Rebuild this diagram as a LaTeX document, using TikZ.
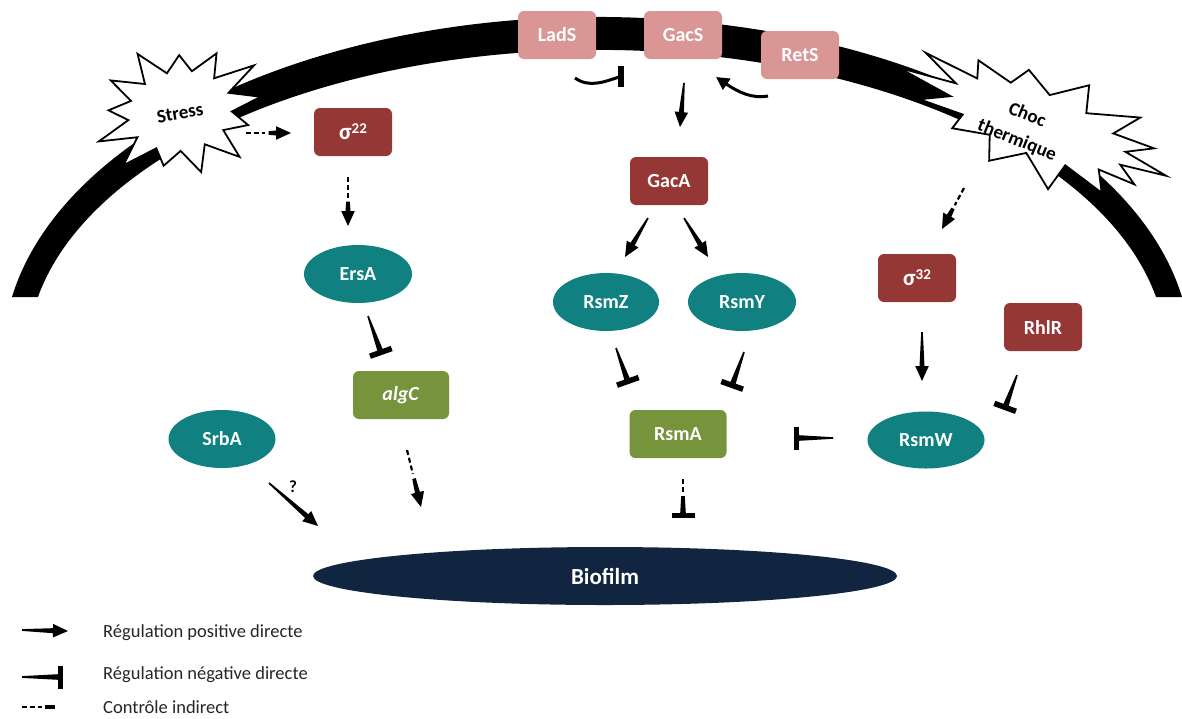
\documentclass[tikz,border=0pt]{standalone}
\usepackage{fontspec}
\setmainfont{Carlito}
\usetikzlibrary{calc,shapes.geometric,arrows.meta}
\definecolor{pinkbox}{RGB}{217,150,148}
\definecolor{redbox}{RGB}{149,55,53}
\definecolor{tealell}{RGB}{16,128,128}
\definecolor{olivebox}{RGB}{119,147,60}
\definecolor{navybio}{RGB}{17,37,64}
\tikzset{
  box/.style={rectangle, rounded corners=6pt, minimum width=78, minimum height=48, inner sep=0pt, text=white, font=\fontsize{20}{24}\selectfont\bfseries},
  pinkb/.style={box, fill=pinkbox},
  redb/.style={box, fill=redbox},
  oliveb/.style={box, fill=olivebox, minimum width=97},
  ell/.style={ellipse, fill=tealell, minimum width=108, minimum height=58, inner sep=0pt, text=white, font=\fontsize{20}{24}\selectfont\bfseries},
  burst/.style={fill=white, draw=black, line width=1.8pt, line join=miter},
  bursttext/.style={font=\fontsize{19}{23}\selectfont\bfseries, align=center, inner sep=0pt},
  legtext/.style={anchor=west, inner sep=0pt, font=\fontsize{18.5}{22}\selectfont, text=black!85},
  dashpart/.style={line width=2.2pt, dash pattern=on 5pt off 3pt},
}
\newcommand\mySig[1]{{\fontsize{23}{24}\selectfont σ}\raisebox{6pt}{\fontsize{15}{16}\selectfont #1}}
\newcommand\myPos[3][0.8]{%
  \path ($(#3)!15pt!(#2)$) coordinate (tb);
  \fill ($(#2)!#1pt!90:(#3)$) -- ($(tb)!2.5pt!-90:(#2)$) -- ($(tb)!6.8pt!-90:(#2)$) -- (#3)
     -- ($(tb)!6.8pt!90:(#2)$) -- ($(tb)!2.5pt!90:(#2)$) -- ($(#2)!#1pt!-90:(#3)$) -- cycle;}
\newcommand\myNeg[3][0.8]{%
  \path ($(#3)!-2.5pt!(#2)$) coordinate (tbar);
  \fill ($(#2)!#1pt!90:(#3)$) -- ($(#3)!2.8pt!-90:(#2)$) -- ($(#3)!2.8pt!90:(#2)$) -- ($(#2)!#1pt!-90:(#3)$) -- cycle;
  \draw[line width=5.5pt] ($(tbar)!11.5pt!90:(#2)$) -- ($(tbar)!11.5pt!-90:(#2)$);}
\newcommand\myIndPos[2]{%
  \path ($(#1)!0.42!(#2)$) coordinate (tm1) ($(#1)!0.5!(#2)$) coordinate (tm2);
  \draw[dashpart] (#1) -- (tm1);
  \myPos[1.8]{tm2}{#2}}
\newcommand\myIndNeg[2]{%
  \path ($(#1)!0.42!(#2)$) coordinate (tm1) ($(#1)!0.5!(#2)$) coordinate (tm2);
  \draw[dashpart] (#1) -- (tm1);
  \myNeg[1.8]{tm2}{#2}}
\begin{document}
\begin{tikzpicture}[x=1pt,y=-1pt]
\useasboundingbox (0,0) rectangle (1182,718);
\fill[white] (0,0) rectangle (1182,718);
% membrane
\fill (12,297) arc[start angle=189.88, end angle=350.12, x radius=593.8, y radius=338]
  -- (1156,297) arc[start angle=349.05, end angle=190.95, x radius=569.4, y radius=305] -- cycle;
% stress bursts
\filldraw[burst, shift={(180,111)}, rotate=10]
  plot[samples at={0,...,25}, variable=\k]
  ({82*cos(\k*360/26)*ifthenelse(mod(\k,2)==0,1+0.12*sin(\k*123),0.64)},
   {62*sin(\k*360/26)*ifthenelse(mod(\k,2)==0,1+0.12*sin(\k*123),0.64)}) -- cycle;
\node[bursttext, rotate=10] (stress) at (180,113) {Stress};
\filldraw[burst, shift={(1038,124)}, rotate=-22]
  plot[samples at={0,...,27}, variable=\k]
  ({138*cos(\k*360/28)*ifthenelse(mod(\k,2)==0,1+0.1*sin(\k*137),0.68)},
   {52*sin(\k*360/28)*ifthenelse(mod(\k,2)==0,1+0.12*sin(\k*137),0.6)}) -- cycle;
\node[bursttext, rotate=-22, font=\fontsize{19}{27}\selectfont\bfseries] (choc) at (1022,128) {Choc\\thermique};
% nodes
\node[pinkb] (LadS) at (557,35) {LadS};
\node[pinkb] (GacS) at (683,35) {GacS};
\node[pinkb] (RetS) at (800,55) {RetS};
\node[redb] (sg22) at (353,132) {\mySig{22}};
\node[redb] (GacA) at (669,181) {GacA};
\node[redb] (sg32) at (917,278) {\mySig{32}};
\node[redb] (RhlR) at (1043,327) {RhlR};
\node[oliveb] (RsmA) at (678,434) {RsmA};
\node[oliveb, minimum width=96] (algC) at (401,395) {\textit{algC}};
\node[ell] (ErsA) at (358,274) {ErsA};
\node[ell, minimum width=106] (RsmZ) at (606,302) {RsmZ};
\node[ell] (RsmY) at (742,302) {RsmY};
\node[ell, minimum width=117, minimum height=57] (RsmW) at (926,440) {RsmW};
\node[ell, minimum width=107] (SrbA) at (222,439) {SrbA};
\node[ellipse, fill=navybio, minimum width=584, minimum height=58, inner sep=0pt, text=white,
      font=\fontsize{23}{27}\selectfont\bfseries] (Bio) at (605,576) {Biofilm};
% connector end points
\coordinate (a1) at (246,133); \coordinate (b1) at (291,133);
\coordinate (a2) at (348,177); \coordinate (b2) at (348,226);
\coordinate (a3) at (368,316); \coordinate (b3) at (380,350);
\coordinate (a4) at (407,450); \coordinate (b4) at (421,507);
\coordinate (a5) at (269,483); \coordinate (b5) at (318,526);
\coordinate (a6) at (684,83);  \coordinate (b6) at (680,127);
\coordinate (a7) at (648,218); \coordinate (b7) at (625,257);
\coordinate (a8) at (684,218); \coordinate (b8) at (708,257);
\coordinate (a9) at (616,348); \coordinate (b9) at (627,379);
\coordinate (a10) at (744,352); \coordinate (b10) at (733,383);
\coordinate (a11) at (833,438); \coordinate (b11) at (799,438);
\coordinate (a12) at (683,479); \coordinate (b12) at (683,513);
\coordinate (a13) at (922,332); \coordinate (b13) at (922,381);
\coordinate (a14) at (1017,375); \coordinate (b14) at (1006,405);
\coordinate (a15) at (964,188); \coordinate (b15) at (942,229);
% connectors
\myIndPos{a1}{b1}
\myIndPos{a2}{b2}
\myNeg{a3}{b3}
\myIndPos{a4}{b4}
\myPos{a5}{b5}
\node[font=\fontsize{17}{20}\selectfont\bfseries] (q) at (293,487) {?};
\myPos{a6}{b6}
\myPos{a7}{b7}
\myPos{a8}{b8}
\myNeg{a9}{b9}
\myNeg{a10}{b10}
\myNeg{a11}{b11}
\myIndNeg{a12}{b12}
\myPos{a13}{b13}
\myNeg{a14}{b14}
\myIndPos{a15}{b15}
% curved connectors near GacS
\coordinate (ls1) at (575,78); \coordinate (ls2) at (619,77);
\draw[line width=3pt] (ls1) .. controls (589,88) and (604,82) .. (ls2);
\draw[line width=5.5pt] (621,66) -- (621,87);
\coordinate (rt1) at (768,96); \coordinate (rt2) at (716,77);
\draw[line width=3pt, -{Triangle[length=13pt,width=13pt]}] (rt1) .. controls (752,99) and (738,92) .. (rt2);
% legend
\coordinate (l1a) at (22,630); \coordinate (l1b) at (68,631);
\myPos[0.9]{l1a}{l1b}
\coordinate (l2a) at (22,677); \coordinate (l2b) at (58,677);
\myNeg[0.9]{l2a}{l2b}
\coordinate (l3a) at (22,707); \coordinate (l3b) at (42,707); \coordinate (l3c) at (45,707); \coordinate (l3d) at (55,707);
\draw[dashpart] (l3a) -- (l3b);
\draw[line width=4pt] (l3c) -- (l3d);
\node[legtext] (t1) at (103,633) {Régulation positive directe};
\node[legtext] (t2) at (103,675) {Régulation négative directe};
\node[legtext] (t3) at (103,707) {Contrôle indirect};
\end{tikzpicture}
\end{document}
